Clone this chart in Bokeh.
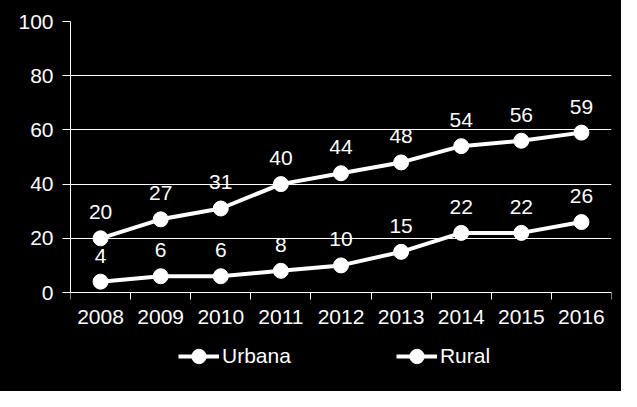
from bokeh.plotting import figure
from bokeh.models import Range1d, FixedTicker, Legend, LegendItem, ColumnDataSource, LinearAxis
from bokeh.embed import file_html
from bokeh.resources import INLINE

years = [2008, 2009, 2010, 2011, 2012, 2013, 2014, 2015, 2016]
urbana = [20, 27, 31, 40, 44, 48, 54, 56, 59]
rural = [4, 6, 6, 8, 10, 15, 22, 22, 26]
y_ticks = [0, 20, 40, 60, 80, 100]
series_names = ["Urbana", "Rural"]

FONT = "Liberation Sans"
FS = "21px"
W = "white"

WIDTH, HEIGHT = 621, 391
TOP, LEFT, RIGHT = 21, 70, 10
ZERO_PX = 292  # pixel row of value 0 inside the figure
px_per_unit = (ZERO_PX - TOP) / 100.0
ymin = -(HEIGHT - ZERO_PX) / px_per_unit

p = figure(width=WIDTH, height=HEIGHT, output_backend="svg", toolbar_location=None,
           x_range=Range1d(years[0] - 0.5, years[-1] + 0.5), y_range=Range1d(ymin, 100),
           y_axis_location=None,
           min_border_left=LEFT, min_border_right=RIGHT, min_border_top=TOP, min_border_bottom=0)
p.background_fill_color = "black"
p.border_fill_color = None
p.outline_line_color = None
p.styles = {"background-color": "black"}

yaxis = LinearAxis(ticker=FixedTicker(ticks=y_ticks), bounds=(y_ticks[0], y_ticks[-1]))
p.add_layout(yaxis, "left")

# x axis drawn at value 0, inside the frame
p.xaxis.fixed_location = 0
p.xaxis.ticker = FixedTicker(ticks=years, minor_ticks=[y - 0.5 for y in years] + [years[-1] + 0.5])
p.xaxis.major_tick_out = 0
p.xaxis.major_tick_in = 0
p.xaxis.minor_tick_out = 7
p.xaxis.minor_tick_in = 0
p.xaxis.minor_tick_line_color = W
p.xaxis.major_label_standoff = 10
yaxis.major_tick_out = 8
yaxis.major_tick_in = 0
yaxis.minor_tick_line_color = None
yaxis.major_label_standoff = 9
for ax in (p.xaxis[0], yaxis):
    ax.axis_line_color = W
    ax.major_tick_line_color = W
    ax.major_label_text_color = W
    ax.major_label_text_font = FONT
    ax.major_label_text_font_size = FS
p.xgrid.grid_line_color = None
p.ygrid.grid_line_color = W
p.ygrid.grid_line_width = 1
p.ygrid.ticker = yaxis.ticker

items = []
for name, vals in zip(series_names, [urbana, rural]):
    src = ColumnDataSource(dict(x=years, y=vals, lab=[str(v) for v in vals]))
    l = p.line("x", "y", source=src, line_color=W, line_width=4)
    c = p.scatter("x", "y", source=src, size=15, fill_color=W, line_color=W)
    p.text("x", "y", text="lab", source=src, text_color=W, text_font_size=FS,
           text_font={"value": FONT}, text_align="center", text_baseline="alphabetic", y_offset=-26)
    items.append(LegendItem(label=name, renderers=[l, c]))

legend = Legend(items=items, orientation="horizontal", location=(108, 17),
                background_fill_alpha=0, border_line_color=None,
                label_text_color=W, label_text_font=FONT, label_text_font_size=FS,
                glyph_width=41, glyph_height=36, label_standoff=3, spacing=105,
                margin=0, padding=0)
p.add_layout(legend, "center")

html = file_html(p, INLINE)
html = html.replace("<body>", '<body style="background-color:black;">', 1)
open("out.html", "w").write(html)
